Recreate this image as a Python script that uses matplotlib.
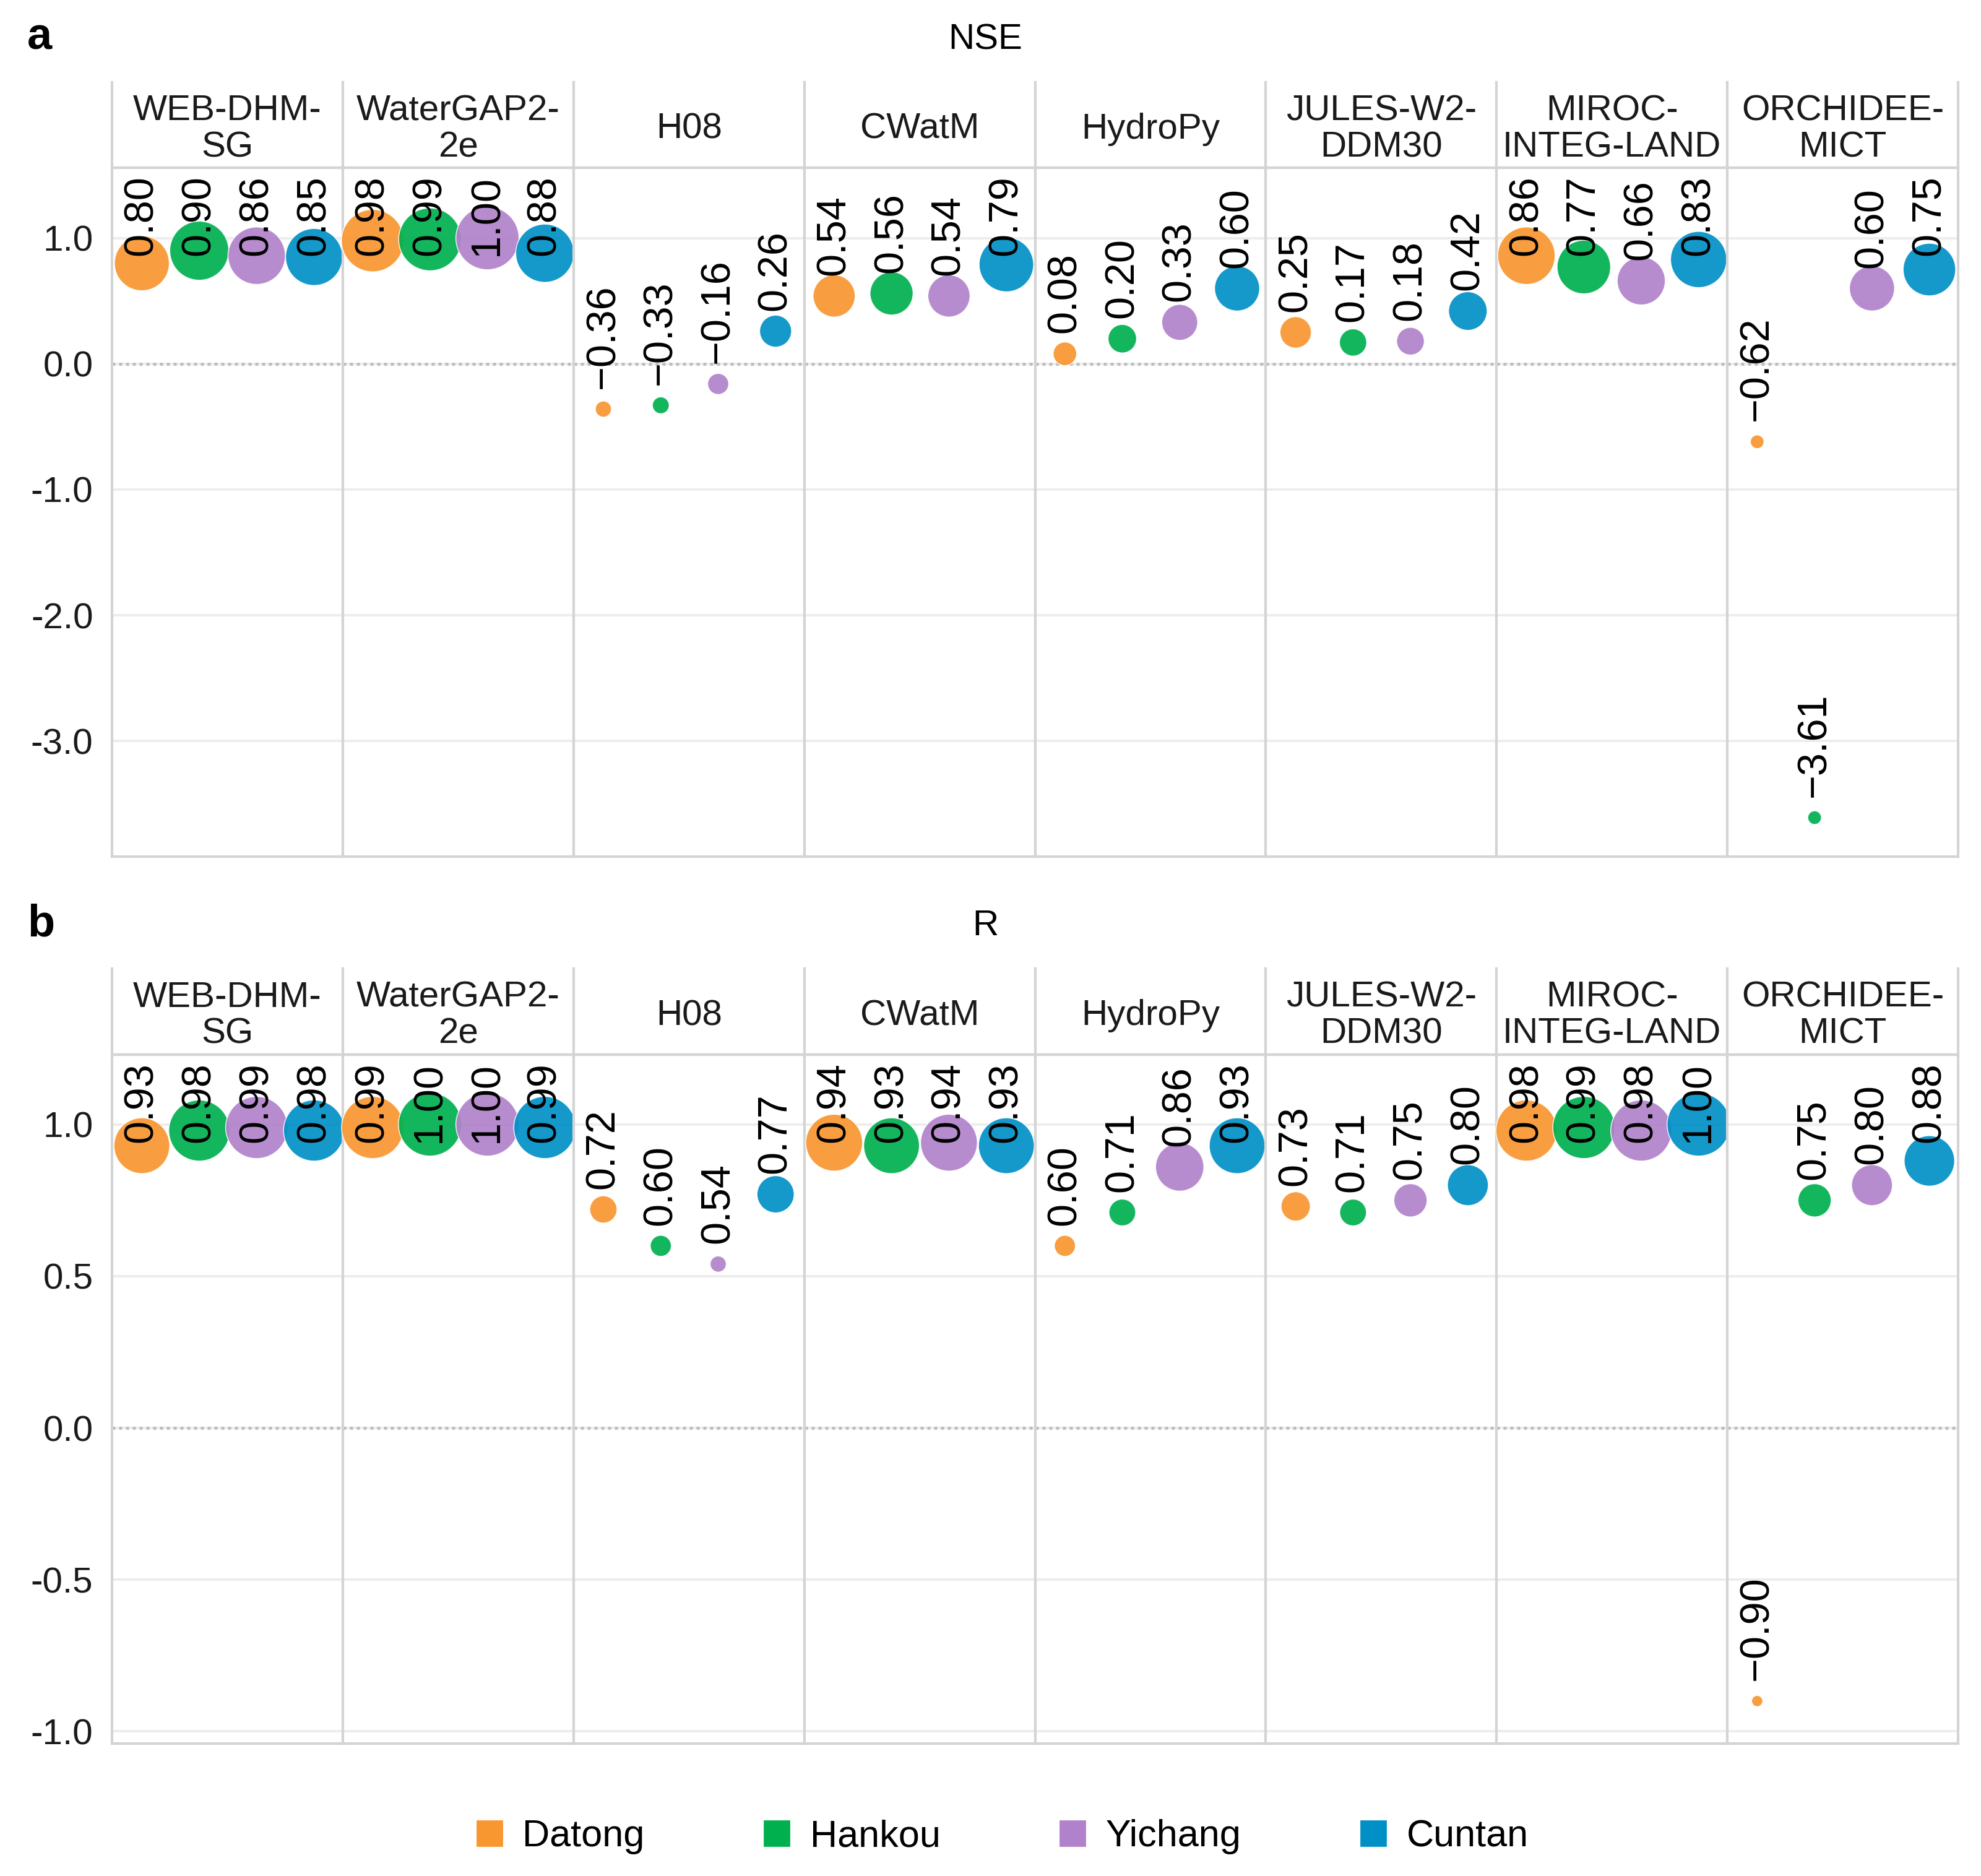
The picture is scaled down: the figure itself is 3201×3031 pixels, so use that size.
import numpy as np
import matplotlib.pyplot as plt
from matplotlib.lines import Line2D

plt.rcParams['font.family'] = ['Liberation Sans', 'DejaVu Sans']

# facets (hydrological models) and stations
models = ['WEB-DHM-\nSG', 'WaterGAP2-\n2e', 'H08', 'CWatM', 'HydroPy',
          'JULES-W2-\nDDM30', 'MIROC-\nINTEG-LAND', 'ORCHIDEE-\nMICT']
stations = ['Datong', 'Hankou', 'Yichang', 'Cuntan']
station_colors = ['#F8962F', '#00B04F', '#B182CB', '#0090C6']

# NSE per station, one value per model
nse_datong = [0.80, 0.98, -0.36, 0.54, 0.08, 0.25, 0.86, -0.62]
nse_hankou = [0.90, 0.99, -0.33, 0.56, 0.20, 0.17, 0.77, -3.61]
nse_yichang = [0.86, 1.00, -0.16, 0.54, 0.33, 0.18, 0.66, 0.60]
nse_cuntan = [0.85, 0.88, 0.26, 0.79, 0.60, 0.42, 0.83, 0.75]

# R per station, one value per model
r_datong = [0.93, 0.99, 0.72, 0.94, 0.60, 0.73, 0.98, -0.90]
r_hankou = [0.98, 1.00, 0.60, 0.93, 0.71, 0.71, 0.99, 0.75]
r_yichang = [0.99, 1.00, 0.54, 0.94, 0.86, 0.75, 0.98, 0.80]
r_cuntan = [0.98, 0.99, 0.77, 0.93, 0.93, 0.80, 1.00, 0.88]

nse_ticks = [1.0, 0.0, -1.0, -2.0, -3.0]
r_ticks = [1.0, 0.5, 0.0, -0.5, -1.0]

W, H, DPI = 3201, 3031, 200
LEFT, RIGHT = 181, 3164
LABEL_GAP = 12      # points between bubble centre and label
TOP_MARGIN = 12     # pixels kept free below the strip


def fx(px):
    return px / W


def fy(px):
    return 1 - px / H


def radius_nse(v):
    # bubble radius (pixels) as a function of value
    return np.interp(v, [-3.61, -0.62, -0.36, -0.16, 0.08, 0.20, 0.33, 0.54, 0.79, 1.0],
                     [11, 11, 13, 17, 19, 23, 29, 34, 44, 51])


def radius_r(v):
    return np.interp(v, [-0.90, 0.54, 0.60, 0.72, 0.77, 0.86, 0.93, 1.0],
                     [9, 13, 17, 22, 30, 39, 45, 51])


def px_to_area(r):
    d_pt = 2 * np.asarray(r) * 72 / DPI
    return d_pt ** 2


def fmt_label(v):
    s = f'{v:.2f}'
    return s.replace('-', '\u2212')


labels = []


def draw_panel(fig, table, ylim, ticks, strip_top, top, bottom, radius_fn):
    fw = (RIGHT - LEFT) / len(models)
    pos = np.arange(1, len(stations) + 1)
    for i, model in enumerate(models):
        x0 = LEFT + i * fw
        sax = fig.add_axes([fx(x0), fy(top), fw / W, (top - strip_top) / H])
        sax.set_xticks([])
        sax.set_yticks([])
        sax.spines['top'].set_visible(False)
        for sp in ['left', 'right', 'bottom']:
            sax.spines[sp].set_color('#D4D4D4')
            sax.spines[sp].set_linewidth(1.5)
        sax.text(0.5, 0.45, model, ha='center', va='center', fontsize=21,
                 linespacing=1.12, color='#1a1a1a', transform=sax.transAxes)

        ax = fig.add_axes([fx(x0), fy(bottom), fw / W, (bottom - top) / H])
        vals = np.array([col[i] for col in table])
        ax.scatter(pos, vals, s=px_to_area(radius_fn(vals)), c=station_colors,
                   alpha=0.92, edgecolors='white', linewidths=0.5, zorder=3, clip_on=False)
        for p, v in zip(pos, vals):
            ann = ax.annotate(fmt_label(v), (p, v), xytext=(0, LABEL_GAP),
                              textcoords='offset points', rotation=90, ha='center',
                              va='bottom', fontsize=24, zorder=5)
            labels.append((ax, ann))
        ax.set_xlim(0.48, 4.5)
        ax.set_ylim(*ylim)
        ax.set_xticks([])
        ax.set_yticks(ticks)
        ax.set_yticklabels([f'{t:.1f}' for t in ticks])
        ax.tick_params(axis='y', length=0, pad=11, labelsize=21, labelcolor='#1a1a1a')
        if i > 0:
            ax.tick_params(axis='y', labelleft=False)
        ax.yaxis.grid(True, color='#EDEDED', lw=1.4)
        ax.set_axisbelow(True)
        ax.axhline(0, color='#BEBEBE', ls=(0, (1, 1.2)), lw=1.8, zorder=1)
        for sp in ax.spines.values():
            sp.set_color('#D4D4D4')
            sp.set_linewidth(1.5)


fig = plt.figure(figsize=(W / DPI, H / DPI), dpi=DPI)

draw_panel(fig, [nse_datong, nse_hankou, nse_yichang, nse_cuntan], (-3.92, 1.56),
           nse_ticks, 133, 271, 1384, radius_nse)
draw_panel(fig, [r_datong, r_hankou, r_yichang, r_cuntan], (-1.04, 1.23),
           r_ticks, 1565, 1704, 2817, radius_r)

fig.text(fx(1592), fy(80), 'NSE', ha='center', va='baseline', fontsize=21)
fig.text(fx(1592), fy(1511), 'R', ha='center', va='baseline', fontsize=21)
fig.text(fx(64), fy(80), 'a', ha='center', va='baseline', fontsize=26, fontweight='bold')
fig.text(fx(66), fy(1512), 'b', ha='center', va='baseline', fontsize=26, fontweight='bold')

handles = [Line2D([], [], marker='s', ls='', color=c, markersize=14.4) for c in station_colors]
fig.legend(handles, stations, loc='center', bbox_to_anchor=(fx(1615), fy(2968)),
           ncol=4, frameon=False, fontsize=22, handlelength=1.0, handletextpad=0.37,
           columnspacing=3.0)

# keep the value labels inside their panel, like a repelled label would
fig.canvas.draw()
renderer = fig.canvas.get_renderer()
for ax, ann in labels:
    bb = ann.get_window_extent(renderer)
    limit = ax.get_window_extent(renderer).y1 - TOP_MARGIN
    if bb.y1 > limit:
        shift_pt = (bb.y1 - limit) * 72 / DPI
        ann.xyann = (0, LABEL_GAP - shift_pt)

fig.savefig('out.png', dpi=DPI)
